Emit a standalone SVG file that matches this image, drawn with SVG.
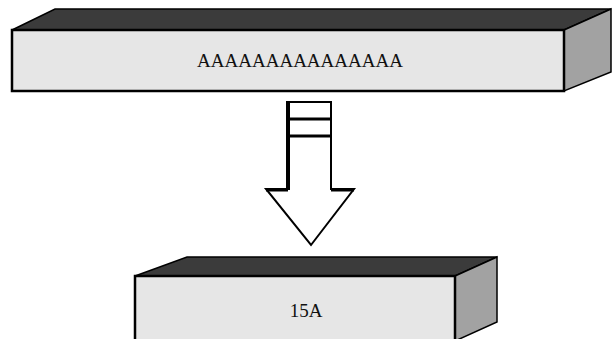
<svg xmlns="http://www.w3.org/2000/svg" width="613" height="339" viewBox="0 0 613 339">
<style>
.front{fill:#e6e6e6;stroke:#000;stroke-width:2.5}
.top{fill:#3b3b3b;stroke:#000;stroke-width:1.5}
.side{fill:#a2a2a2;stroke:#000;stroke-width:1.5}
.lbl{font-family:"Liberation Serif",serif;font-size:19px;fill:#111;text-anchor:middle}
.arr{fill:#fff;stroke:#000;stroke-width:2;stroke-linejoin:miter}
</style>
<rect width="613" height="339" fill="#fff"/>
<g id="box-top">
<polygon class="top" points="12,30 55,9 611,9 564,30"/>
<polygon class="side" points="564,30 611,9 611,72 564,91"/>
<rect class="front" x="12" y="30" width="552" height="61"/>
<text class="lbl" x="300" y="67">AAAAAAAAAAAAAAA</text>
</g>
<g id="connectors">
<polygon class="arr" points="287,102 331,102 331,189 354,189 311,245 266,189 287,189"/>
<line x1="287" y1="119" x2="331" y2="119" stroke="#000" stroke-width="3"/>
<line x1="287" y1="136" x2="331" y2="136" stroke="#000" stroke-width="3"/>
<line x1="288" y1="102" x2="288" y2="190" stroke="#000" stroke-width="4"/>
<line x1="266" y1="190" x2="288" y2="190" stroke="#000" stroke-width="3"/>
<line x1="331" y1="190" x2="354" y2="190" stroke="#000" stroke-width="3"/>
</g>
<g id="box-bottom">
<polygon class="top" points="135,276 187,257 497,257 455,276"/>
<polygon class="side" points="455,276 497,257 497,322 455,341"/>
<rect class="front" x="135" y="276" width="320" height="66"/>
<text class="lbl" x="306" y="317">15A</text>
</g>
</svg>
